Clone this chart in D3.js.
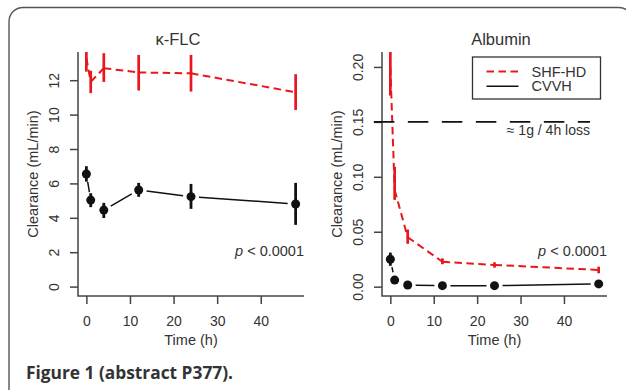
<!DOCTYPE html>
<html><head><meta charset="utf-8">
<script src="https://cdn.jsdelivr.net/npm/d3@7/dist/d3.min.js"></script>
<style>
html,body{margin:0;padding:0;background:#fff;}
svg{display:block;}
text{font-family:"Liberation Sans",Arial,Helvetica,sans-serif;fill:#333;}
</style></head>
<body>
<svg id="chart" width="626" height="390"></svg>
<script>
// ---- data ----
const times = [0, 1, 4, 12, 24, 48];
const seriesNames = ["SHF-HD", "CVVH"];
const flcShfMean = [13.3, 11.9, 12.7, 12.45, 12.4, 11.3];
const flcShfLo   = [12.5, 11.25, 11.9, 11.4, 11.34, 10.27];
const flcShfHi   = [14.1, 12.55, 13.57, 13.47, 13.47, 12.35];
const flcCvvhMean = [6.55, 5.03, 4.45, 5.62, 5.23, 4.8];
const flcCvvhLo   = [6.1, 4.62, 3.99, 5.22, 4.52, 3.59];
const flcCvvhHi   = [7.0, 5.43, 4.87, 6.03, 5.97, 6.03];
const albShfMean = [0.2, 0.088, 0.045, 0.0227, 0.0198, 0.0152];
const albShfLo   = [0.174, 0.079, 0.039, 0.0204, 0.0173, 0.0122];
const albShfHi   = [0.226, 0.109, 0.052, 0.0258, 0.0222, 0.0182];
const albCvvhMean = [0.025, 0.006, 0.0015, 0.0009, 0.0009, 0.0025];
const albCvvhLo   = [0.019, 0.0052, 0.001, 0.0005, 0.0005, 0.0019];
const albCvvhHi   = [0.031, 0.0068, 0.002, 0.0013, 0.0013, 0.0031];
const xTicks = [0, 10, 20, 30, 40];
const flcYTicks = [0, 2, 4, 6, 8, 10, 12];
const albYTicks = [0, 0.05, 0.10, 0.15, 0.20];
const albRefLevel = 0.15;
const albRefExtent = [-3.8, 46];
const albRefLabel = "\u2248 1g / 4h loss";
const pText = "< 0.0001";

const RED = "#e8161d", BLACK = "#111", AXIS = "#444";
const svg = d3.select("#chart");

// outer frame
svg.append("rect").attr("x", 9).attr("y", 7.5).attr("width", 624).attr("height", 420)
  .attr("rx", 14).attr("fill", "none").attr("stroke", "#555").attr("stroke-width", 1.4);

function panel(opts) {
  const {left, right, top, bottom, xDomain, yDomain, yTicks, yFmt, title, titleX,
         shf, cvvh, id} = opts;
  const x = d3.scaleLinear().domain(xDomain).range([left, right]);
  const y = d3.scaleLinear().domain(yDomain).range([bottom, top]);
  const g = svg.append("g");
  g.append("clipPath").attr("id", id).append("rect")
    .attr("x", left).attr("y", top).attr("width", right - left).attr("height", bottom - top);

  g.append("path").attr("d", `M${left},${top}V${bottom}H${right}`)
    .attr("fill", "none").attr("stroke", AXIS).attr("stroke-width", 1.5);

  const xa = g.append("g").attr("transform", `translate(0,${bottom})`)
    .call(d3.axisBottom(x).tickValues(xTicks).tickSize(8).tickPadding(12.5).tickFormat(d3.format("d")));
  xa.select(".domain").remove();
  xa.selectAll("line").attr("stroke", AXIS).attr("stroke-width", 1.5);
  xa.selectAll("text").attr("font-size", 14).attr("fill", "#333")
    .style("font-family", '"Liberation Sans",Arial,sans-serif');

  const ya = g.append("g").attr("transform", `translate(${left},0)`)
    .call(d3.axisLeft(y).tickValues(yTicks).tickSize(8).tickFormat(yFmt));
  ya.select(".domain").remove();
  ya.selectAll("line").attr("stroke", AXIS).attr("stroke-width", 1.5);
  ya.selectAll("text").attr("font-size", 14).attr("fill", "#333")
    .style("font-family", '"Liberation Sans",Arial,sans-serif')
    .attr("transform", "rotate(-90)").attr("x", 0).attr("y", -19).attr("dy", 0)
    .attr("text-anchor", "middle");

  g.append("text").attr("x", (left + right) / 2).attr("y", 345)
    .attr("text-anchor", "middle").attr("font-size", 14.5).text("Time (h)");
  g.append("text").attr("transform", `translate(${left - 40},${(top + bottom) / 2}) rotate(-90)`)
    .attr("text-anchor", "middle").attr("font-size", 14.5).text("Clearance (mL/min)");
  g.append("text").attr("x", x(titleX)).attr("y", 45).attr("text-anchor", "middle")
    .attr("font-size", 16.5).text(title);

  const p = g.append("text").attr("x", right).attr("y", 256).attr("text-anchor", "end").attr("font-size", 14.5);
  p.append("tspan").attr("font-style", "italic").text("p");
  p.append("tspan").text(" " + pText);

  const data = (m, lo, hi) => times.map((t, i) => ({t, m: m[i], lo: lo[i], hi: hi[i]}));
  const clipped = g.append("g").attr("clip-path", `url(#${id})`);

  // SHF-HD: dashed line segments + error bars
  const sd = data(shf[0], shf[1], shf[2]);
  for (let i = 0; i < sd.length - 1; i++) {
    clipped.append("line")
      .attr("x1", x(sd[i].t)).attr("y1", y(sd[i].m))
      .attr("x2", x(sd[i + 1].t)).attr("y2", y(sd[i + 1].m))
      .attr("stroke", RED).attr("stroke-width", 2).attr("stroke-dasharray", "7.5,4.5");
  }
  clipped.selectAll(".ebr").data(sd).enter().append("line")
    .attr("x1", d => x(d.t)).attr("x2", d => x(d.t))
    .attr("y1", d => y(d.lo)).attr("y2", d => y(d.hi))
    .attr("stroke", RED).attr("stroke-width", 2.7);

  // CVVH: solid line with gaps near points, error bars, points
  const cd = data(cvvh[0], cvvh[1], cvvh[2]);
  const gap = 8;
  for (let i = 0; i < cd.length - 1; i++) {
    const x1 = x(cd[i].t), y1 = y(cd[i].m), x2 = x(cd[i + 1].t), y2 = y(cd[i + 1].m);
    const L = Math.hypot(x2 - x1, y2 - y1);
    if (L <= 2 * gap + 1) continue;
    const ux = (x2 - x1) / L, uy = (y2 - y1) / L;
    clipped.append("line")
      .attr("x1", x1 + ux * gap).attr("y1", y1 + uy * gap)
      .attr("x2", x2 - ux * gap).attr("y2", y2 - uy * gap)
      .attr("stroke", BLACK).attr("stroke-width", 1.5);
  }
  clipped.selectAll(".ebk").data(cd).enter().append("line")
    .attr("x1", d => x(d.t)).attr("x2", d => x(d.t))
    .attr("y1", d => y(d.lo)).attr("y2", d => y(d.hi))
    .attr("stroke", BLACK).attr("stroke-width", 2.8);
  clipped.selectAll("circle").data(cd).enter().append("circle")
    .attr("cx", d => x(d.t)).attr("cy", d => y(d.m)).attr("r", 4.5).attr("fill", BLACK);
  return {x, y, g};
}

const fmtInt = d3.format("d");
const fmt2 = d3.format(".2f");

panel({left: 78, right: 304, top: 52, bottom: 296, xDomain: [-1.92, 49.92],
  yDomain: [-0.546, 13.64], yTicks: flcYTicks, yFmt: fmtInt, title: "\u03ba-FLC", titleX: 21,
  shf: [flcShfMean, flcShfLo, flcShfHi], cvvh: [flcCvvhMean, flcCvvhLo, flcCvvhHi], id: "clipL"});

const R = panel({left: 382, right: 607, top: 52, bottom: 296, xDomain: [-1.92, 49.92],
  yDomain: [-0.0085, 0.2136], yTicks: albYTicks, yFmt: fmt2, title: "Albumin", titleX: 25.5,
  shf: [albShfMean, albShfLo, albShfHi], cvvh: [albCvvhMean, albCvvhLo, albCvvhHi], id: "clipR"});

// reference line
R.g.append("line").attr("x1", R.x(albRefExtent[0])).attr("x2", R.x(albRefExtent[1]))
  .attr("y1", R.y(albRefLevel)).attr("y2", R.y(albRefLevel))
  .attr("stroke", BLACK).attr("stroke-width", 1.6).attr("stroke-dasharray", "20.5,13.5");
R.g.append("text").attr("x", R.x(albRefExtent[1])).attr("y", R.y(albRefLevel) + 13.5)
  .attr("text-anchor", "end").attr("font-size", 14).text(albRefLabel);

// legend
const lg = svg.append("g").attr("transform", "translate(472.5,57)");
lg.append("rect").attr("width", 128).attr("height", 42).attr("fill", "#fff")
  .attr("stroke", "#333").attr("stroke-width", 1.3);
const legColors = [RED, BLACK], legDash = ["7.5,4.5", null];
seriesNames.forEach((s, i) => {
  const yy = 14.5 + i * 14.7;
  lg.append("line").attr("x1", 14).attr("x2", 46).attr("y1", yy).attr("y2", yy)
    .attr("stroke", legColors[i]).attr("stroke-width", i ? 1.5 : 2)
    .attr("stroke-dasharray", legDash[i]);
  lg.append("text").attr("x", 59).attr("y", yy + 5).attr("font-size", 14.5).text(s);
});

// caption
svg.append("text").attr("x", 26).attr("y", 378.5)
  .attr("textLength", 207).attr("lengthAdjust", "spacingAndGlyphs")
  .style("font-family", '"Open Sans","Noto Sans",sans-serif').attr("font-weight", 700)
  .attr("font-size", 18.5).attr("fill", "#231f20").text("Figure 1 (abstract P377).");
</script>
</body></html>
